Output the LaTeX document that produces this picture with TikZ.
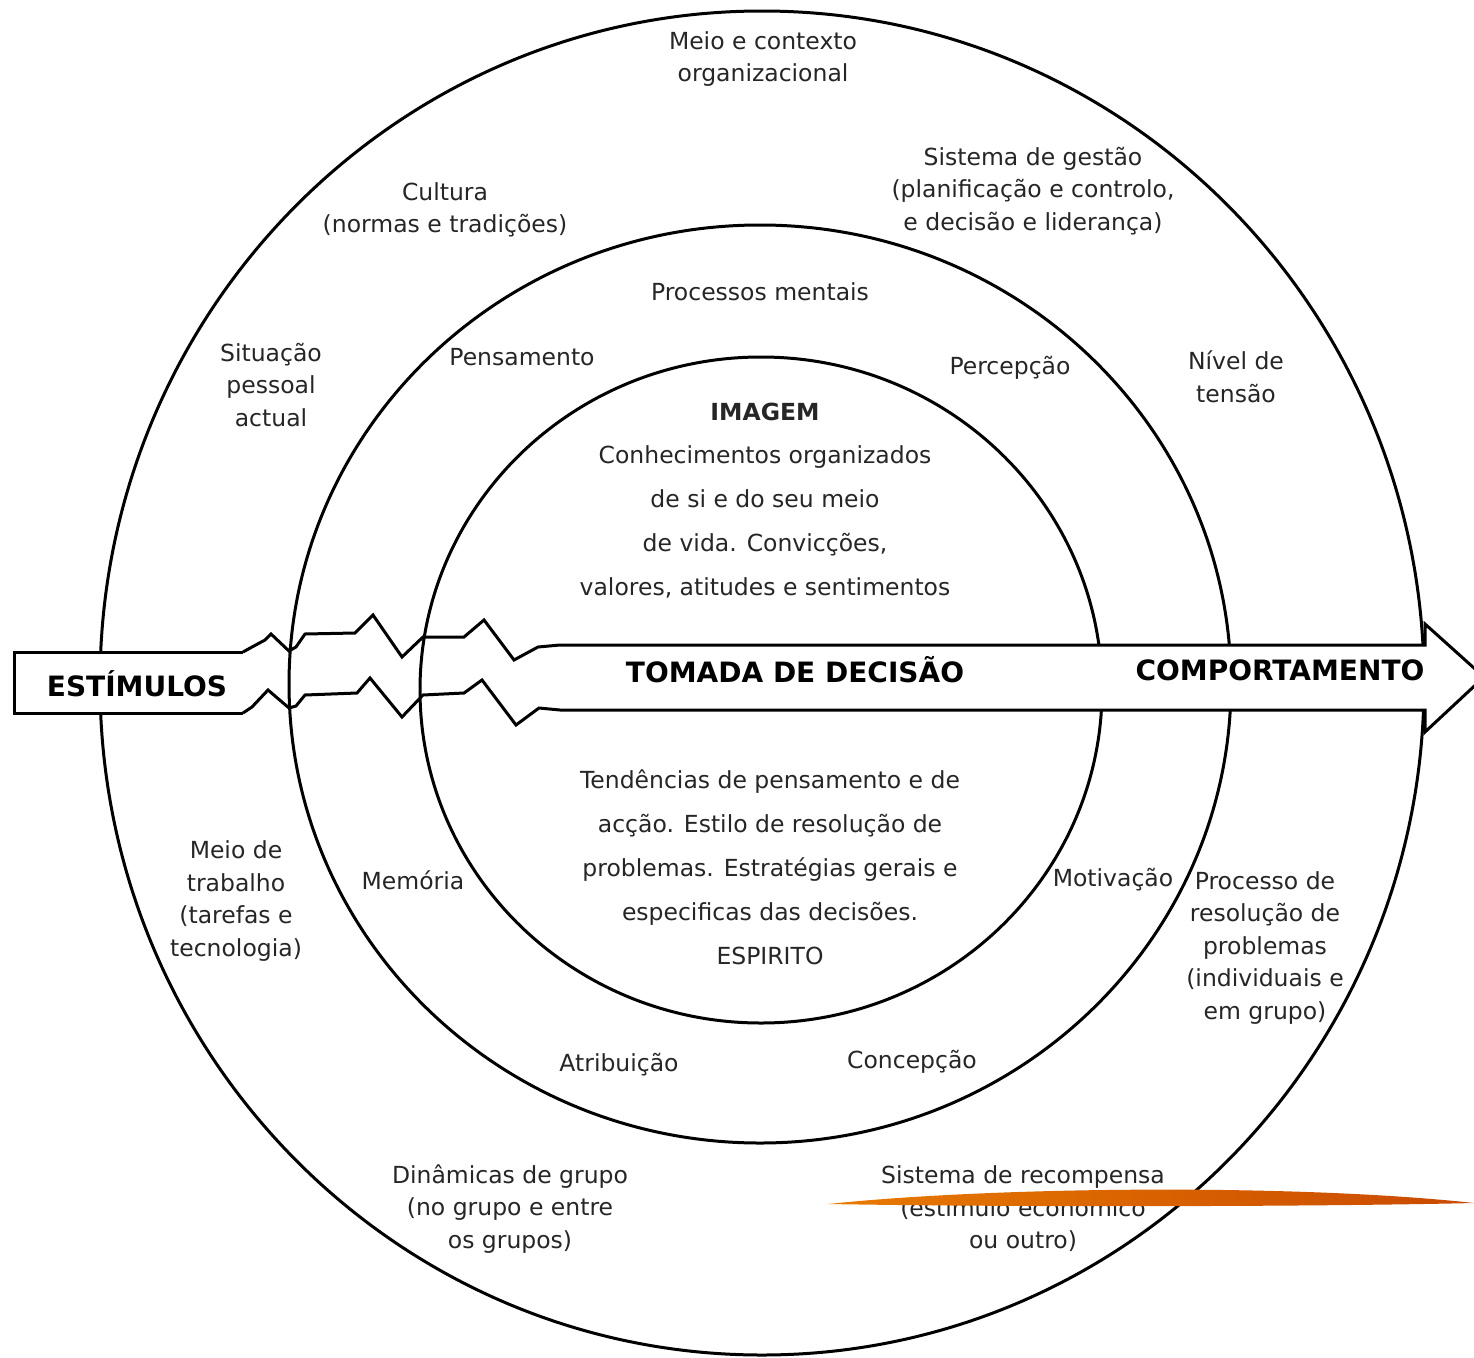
\documentclass[tikz,border=0pt]{standalone}
\usepackage{fontspec}
\setmainfont{DejaVu Sans}
\definecolor{txt}{HTML}{262626}
\definecolor{orA}{HTML}{E87A00}
\definecolor{orB}{HTML}{C94A00}
\begin{document}
\begin{tikzpicture}[x=1pt,y=-1pt,
  lbl/.style={font=\fontsize{23.5}{32.5}\selectfont, text=txt, align=center, inner sep=0pt},
  midtxt/.style={font=\fontsize{23.5}{44}\selectfont, text=txt, align=center, inner sep=0pt},
  big/.style={font=\fontsize{28}{32}\selectfont\bfseries, text=black, inner sep=0pt},
  ring/.style={line width=3pt, draw=black},
  band/.style={line width=3pt, draw=black, line join=miter}]
\fill[white] (0,0) rectangle (1474,1357);
\useasboundingbox (0,0) rectangle (1474,1357);

% rings
\draw[ring] (762,683) ellipse [x radius=662, y radius=672];
\draw[ring] (760,684) ellipse [x radius=471, y radius=459];
\draw[ring] (761,690) ellipse [x radius=341, y radius=333];

% left box
\fill[white] (14,652) rectangle (243,713);
\draw[band] (243,652) -- (14,652) -- (14,713) -- (243,713);
% right band fill
\fill[white] (538,647) -- (560,645) -- (1425,645) -- (1425,624) -- (1484,677) -- (1425,732) -- (1425,710) -- (539,708) -- cycle;
% top zigzag
\draw[band] (243,652) -- (252,647) -- (265,640) -- (271,634) -- (289,651) -- (296,647) -- (305,634) -- (355,633) -- (373,615) -- (402,657) -- (423,637) -- (464,637) -- (484,620) -- (514,660) -- (538,647) -- (560,645) -- (1425,645) -- (1425,624) -- (1484,677);
% bottom zigzag
\draw[band] (243,713) -- (252,707) -- (268,690) -- (289,708) -- (296,706) -- (305,695) -- (357,693) -- (370,678) -- (402,717) -- (423,695) -- (464,693) -- (482,680) -- (516,725) -- (539,708) -- (560,710) -- (1425,710) -- (1425,732) -- (1484,677);

% labels
\node[lbl] (t1) at (763,59) {Meio e contexto\\organizacional};
\node[lbl] (t2) at (445,210) {Cultura\\(normas e tradições)};
\node[lbl] (t3) at (1033,191) {Sistema de gestão\\(planificação e controlo,\\e decisão e liderança)};
\node[lbl] (t4) at (760,292) {Processos mentais};
\node[lbl] (t5) at (271,385) {Situação\\pessoal\\actual};
\node[lbl] (t6) at (522,357) {Pensamento};
\node[lbl] (t7) at (1010,368) {Percepção};
\node[lbl] (t8) at (1236,377) {Nível de\\tensão};
\node[font=\fontsize{23.5}{30}\selectfont\bfseries, text=txt, inner sep=0pt] (t9) at (765,412) {IMAGEM};
\node[midtxt] (t10) at (765,522) {Conhecimentos organizados\\de si e do seu meio\\de vida. Convicções,\\valores, atitudes e sentimentos};
\node[big] (t11) at (137,684) {ESTÍMULOS};
\node[big] (t12) at (795,670) {TOMADA DE DECISÃO};
\node[big] (t13) at (1280,670) {COMPORTAMENTO};
\node[midtxt] (t14) at (770,867) {Tendências de pensamento e de\\acção. Estilo de resolução de\\problemas. Estratégias gerais e\\especificas das decisões.\\ESPIRITO};
\node[lbl] (t15) at (236,901) {Meio de\\trabalho\\(tarefas e\\tecnologia)};
\node[lbl] (t16) at (413,880) {Memória};
\node[lbl] (t17) at (1113,880) {Motivação};
\node[lbl] (t18) at (1265,948) {Processo de\\resolução de\\problemas\\(individuais e\\em grupo)};
\node[lbl] (t19) at (619,1065) {Atribuição};
\node[lbl] (t20) at (912,1062) {Concepção};
\node[lbl] (t21) at (510,1209) {Dinâmicas de grupo\\(no grupo e entre\\os grupos)};
\node[lbl] (t22) at (1023,1209) {Sistema de recompensa\\(estímulo económico\\ou outro)};

% orange swoosh
\shade[left color=orA, right color=orB] (828,1204) .. controls (1000,1186) and (1300,1184) .. (1474,1203) .. controls (1300,1207) and (1000,1207) .. (828,1204) -- cycle;
\end{tikzpicture}
\end{document}
